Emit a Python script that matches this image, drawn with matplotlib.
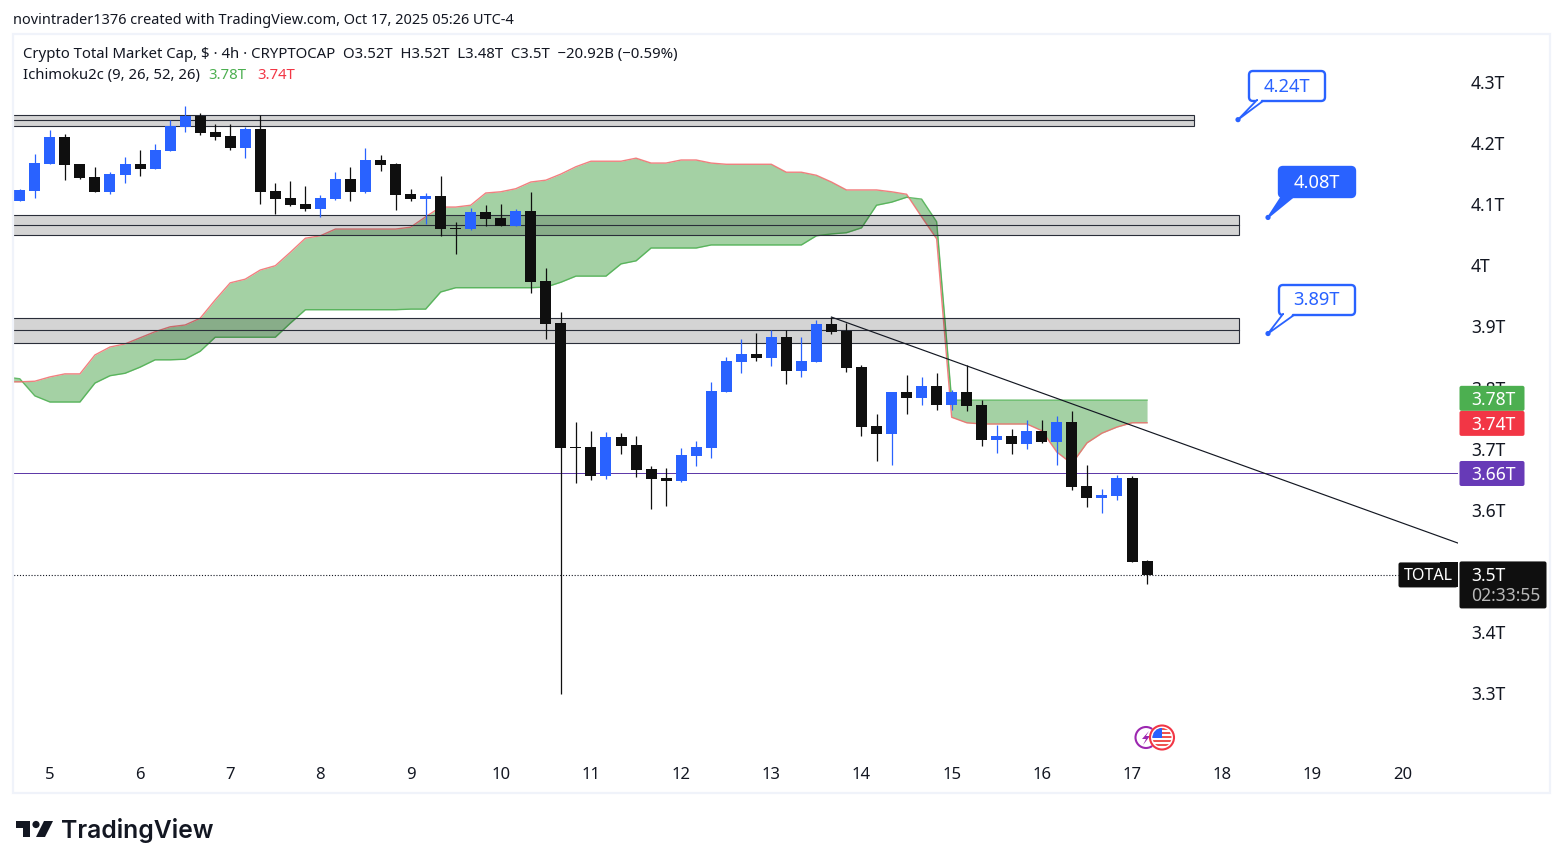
import numpy as np
import matplotlib
matplotlib.use("Agg")
import matplotlib.pyplot as plt
from matplotlib.patches import Polygon, FancyBboxPatch, Circle, Rectangle
from matplotlib.transforms import IdentityTransform, ScaledTranslation

plt.rcParams['font.family'] = ['Noto Sans', 'DejaVu Sans']

# ---------- data (prices in trillions) ----------
opens = [4.107,4.123,4.167,4.212,4.167,4.146,4.122,4.149,4.167,4.159,4.189,4.228,4.246,4.220,4.213,4.194,4.225,4.123,4.112,4.102,
         4.094,4.110,4.143,4.122,4.174,4.167,4.118,4.110,4.115,4.063,4.061,4.089,4.079,4.066,4.091,3.976,3.907,3.704,3.704,3.657,
         3.721,3.708,3.668,3.654,3.649,3.690,3.703,3.794,3.843,3.857,3.850,3.884,3.829,3.843,3.906,3.894,3.835,3.739,3.726,3.794,
         3.785,3.804,3.773,3.794,3.773,3.716,3.722,3.709,3.731,3.713,3.745,3.641,3.621,3.624,3.654,3.518]
highs = [4.127,4.184,4.223,4.217,4.167,4.163,4.154,4.179,4.190,4.200,4.239,4.262,4.251,4.233,4.233,4.228,4.248,4.136,4.140,4.131,
         4.117,4.154,4.163,4.194,4.182,4.169,4.127,4.120,4.148,4.073,4.095,4.100,4.102,4.094,4.122,3.997,3.925,3.745,3.731,3.729,
         3.727,3.722,3.673,3.670,3.703,3.714,3.811,3.852,3.881,3.891,3.896,3.896,3.884,3.912,3.917,3.907,3.839,3.758,3.794,3.822,
         3.819,3.825,3.798,3.839,3.781,3.740,3.734,3.749,3.749,3.755,3.763,3.675,3.636,3.658,3.657,3.519]
lows = [4.107,4.112,4.167,4.141,4.143,4.122,4.118,4.136,4.148,4.159,4.189,4.220,4.215,4.207,4.190,4.177,4.102,4.086,4.099,4.091,
        4.081,4.109,4.107,4.120,4.156,4.092,4.107,4.069,4.050,4.020,4.059,4.066,4.066,4.066,3.956,3.881,3.300,3.645,3.650,3.652,
        3.693,3.655,3.603,3.608,3.647,3.673,3.686,3.794,3.825,3.845,3.837,3.807,3.819,3.843,3.889,3.827,3.722,3.681,3.675,3.758,
        3.773,3.765,3.765,3.763,3.706,3.695,3.693,3.701,3.711,3.675,3.634,3.606,3.596,3.618,3.516,3.480]
closes = [4.125,4.169,4.212,4.166,4.145,4.122,4.151,4.167,4.159,4.190,4.230,4.246,4.218,4.212,4.194,4.225,4.122,4.110,4.100,4.094,
          4.112,4.143,4.122,4.174,4.166,4.117,4.110,4.115,4.061,4.061,4.089,4.077,4.066,4.091,3.974,3.906,3.703,3.703,3.657,3.721,
          3.706,3.667,3.652,3.649,3.691,3.704,3.796,3.845,3.857,3.850,3.884,3.829,3.845,3.906,3.893,3.834,3.737,3.726,3.794,3.785,
          3.804,3.773,3.794,3.771,3.716,3.722,3.709,3.731,3.713,3.745,3.639,3.621,3.626,3.654,3.516,3.495]

cloud_index = list(range(-1, 76))
span_red = [3.811,3.811,3.812,3.819,3.824,3.824,3.855,3.868,3.873,3.883,3.893,3.901,3.904,3.915,3.945,3.973,3.979,3.994,4.001,4.023,
            4.046,4.050,4.061,4.061,4.061,4.061,4.061,4.064,4.081,4.097,4.097,4.100,4.120,4.122,4.127,4.138,4.141,4.151,4.163,4.172,
            4.172,4.172,4.177,4.169,4.169,4.174,4.174,4.169,4.167,4.167,4.167,4.167,4.154,4.154,4.149,4.138,4.125,4.125,4.125,4.122,
            4.118,4.081,4.045,3.753,3.744,3.742,3.742,3.742,3.742,3.731,3.696,3.677,3.711,3.727,3.737,3.744,3.744]
span_green = [3.819,3.816,3.788,3.778,3.778,3.778,3.809,3.821,3.825,3.835,3.847,3.847,3.848,3.861,3.884,3.884,3.884,3.884,3.884,3.907,
              3.929,3.929,3.929,3.929,3.929,3.929,3.929,3.930,3.930,3.958,3.965,3.965,3.965,3.965,3.965,3.965,3.966,3.974,3.984,3.984,
              3.984,4.004,4.009,4.030,4.030,4.030,4.030,4.035,4.035,4.035,4.035,4.035,4.035,4.035,4.050,4.053,4.055,4.063,4.100,4.105,
              4.113,4.110,4.073,3.781,3.781,3.781,3.781,3.781,3.781,3.781,3.781,3.781,3.781,3.781,3.781,3.781,3.781]

zone_levels = [(4.247, 4.239, 4.229), (4.084, 4.067, 4.051), (3.915, 3.895, 3.874)]
zone_end_index = [78.1, 81.1, 81.1]
trend_index = [54, 95.7]
trend_price = [3.917, 3.547]
level_price = 3.661
last_price = 3.495
conv_value = 3.784
base_value = 3.743
callout_prices = [4.24, 4.08, 3.89]
callout_labels = ['4.24T', '4.08T', '3.89T']

y_ticks = [3.3, 3.4, 3.5, 3.6, 3.7, 3.8, 3.9, 4.0, 4.1, 4.2, 4.3]
y_labels = ['3.3T', '3.4T', '3.5T', '3.6T', '3.7T', '3.8T', '3.9T', '4T', '4.1T', '4.2T', '4.3T']
x_tick_index = [2, 8, 14, 20, 26, 32, 38, 44, 50, 56, 62, 68, 74, 80, 86, 92]
x_labels = ['5', '6', '7', '8', '9', '10', '11', '12', '13', '14', '15', '16', '17', '18', '19', '20']

# ---------- layout ----------
W, H = 1563, 868
X0, STEP = 19.8, 15.03
BLUE, BLACK = '#2962ff', '#0f0f0f'
TXT = '#131722'
AXFS = 12.6
fig = plt.figure(figsize=(W / 100, H / 100), dpi=100, facecolor='white')
ax = fig.add_axes([13 / W, 1 - 762 / H, 1445 / W, 727 / H])
ax.set_xlim((13 - X0) / STEP, (1458 - X0) / STEP)
ax.set_ylim(4.3 - (762 - 83) / 611.1, 4.3 + (83 - 35) / 611.1)
for s in ax.spines.values():
    s.set_visible(False)


def py(price):
    return H - ax.transData.transform((0, price))[1]


def add(p):
    p.set_transform(IdentityTransform())
    fig.add_artist(p)
    return p


def poly(pts, **kw):
    return add(Polygon([(x, H - y) for x, y in pts], closed=True, **kw))


def ftext(x, y, s, **kw):
    kw.setdefault('va', 'center')
    kw.setdefault('ha', 'left')
    return fig.text(x / W, 1 - y / H, s, **kw)


# outer frame
add(Rectangle((13, H - 793), 1537, 759, fc='none', ec='#f0f3fa', lw=1.6, zorder=0.5))

# cloud
ax.fill_between(cloud_index, span_red, span_green, color='#4ba54b', alpha=0.5, lw=0, zorder=1)
ax.plot(cloud_index, span_green, color='#4caf50', lw=1.0, alpha=0.85, zorder=1.2)
ax.plot(cloud_index, span_red, color='#f06a6a', lw=1.0, alpha=0.85, zorder=1.3)

# zones
for (t, m, b), xe in zip(zone_levels, zone_end_index):
    ax.fill_between([-1, xe], b, t, color='#000005', alpha=0.17, lw=0, zorder=1.5)
    ax.plot([-1, xe, xe, -1], [t, t, b, b], color='#2a2e39', lw=0.8, zorder=1.6, solid_joinstyle='miter')
    ax.plot([-1, xe], [m, m], color='#2a2e39', lw=0.8, zorder=1.6)

ax.axhline(level_price, color='#5e3aa8', lw=0.72, zorder=1.7)
ax.plot([-1, (1398 - X0) / STEP], [last_price, last_price], color='#131722', lw=0.8,
        ls=(0, (1, 1.6)), zorder=1.7)

# candles
idx = np.arange(len(opens))
o, h, l, c = map(np.array, (opens, highs, lows, closes))
colors = [BLUE if ci >= oi else BLACK for oi, ci in zip(o, c)]
ax.vlines(idx, l, h, colors=colors, lw=0.9, zorder=3)
ax.bar(idx, np.abs(c - o), bottom=np.minimum(o, c), width=11 / STEP, color=colors, lw=0, zorder=3.1)

ax.plot(trend_index, trend_price, color='#131722', lw=0.85, zorder=4, clip_on=True)

# axes
ax.yaxis.tick_right()
ax.set_yticks(y_ticks, y_labels)
ax.tick_params(axis='y', length=0, pad=9.2, labelsize=AXFS, labelcolor=TXT)
ax.set_xticks(x_tick_index, x_labels)
ax.tick_params(axis='x', length=0, pad=3.6, labelsize=12, labelcolor=TXT)
lift = ScaledTranslation(0, 1 / 100, fig.dpi_scale_trans)
for tick in ax.yaxis.get_major_ticks():
    tick.label2.set_transform(tick.label2.get_transform() + lift)

# badges on price axis
for price, col, lab in [(conv_value, '#4caf50', '3.78T'), (base_value, '#f23645', '3.74T'), (level_price, '#673ab7', '3.66T')]:
    y = py(price)
    add(FancyBboxPatch((1461, H - y - 11), 62, 22, boxstyle='round,pad=1.5,rounding_size=2', fc=col, ec='none', zorder=6))
    ftext(1471, y + 1.2, lab, color='white', fontsize=AXFS, zorder=7)
y = py(last_price)
add(FancyBboxPatch((1461, H - y - 32), 84, 44, boxstyle='round,pad=1.5,rounding_size=2', fc=BLACK, ec='none', zorder=6))
ftext(1471, y + 1.5, '3.5T', color='white', fontsize=AXFS, zorder=7)
ftext(1471, y + 21, '02:33:55', color='#b8b8b8', fontsize=AXFS, zorder=7)
add(FancyBboxPatch((1400, H - y - 11), 56, 22, boxstyle='round,pad=1.5,rounding_size=2', fc=BLACK, ec='none', zorder=6))
add(Rectangle((1440, H - y - 12.5), 18, 25, fc=BLACK, ec='none', zorder=6))
ftext(1428, y + 1.5, 'TOTAL', color='white', fontsize=11.6, ha='center', zorder=7)

# callouts
for price, lab, bx, by, tail, filled in zip(callout_prices, callout_labels,
                                            [1249, 1279, 1279], [71, 167, 285],
                                            [(1257, 1263), (1282, 1293), (1283, 1294)],
                                            [False, True, False]):
    px = bx - 11 if not filled and bx == 1249 else 1268
    yp = py(price)
    fc = BLUE if filled else 'white'
    add(FancyBboxPatch((bx + 2, H - by - 28), 72, 26, boxstyle='round,pad=2,rounding_size=4', fc=fc, ec=BLUE, lw=1.7, zorder=6))
    poly([(tail[0], by + 29), (px, yp), (tail[1], by + 30)], fc=fc, ec=BLUE, lw=1.3, zorder=6.5)
    if not filled:
        poly([(tail[0] + 1, by + 28), (tail[1] - 1, by + 28), (tail[1] - 3, by + 31), (tail[0] + 1, by + 31)], fc='white', ec='none', zorder=6.6)
    add(Circle((px, H - yp), 2.6, fc=BLUE, ec='none', zorder=6.7))
    ftext(bx + 37.5, by + 15.5, lab, color='white' if filled else BLUE, fontsize=13.2, ha='center', zorder=7,
          fontweight='semibold')

# header
ftext(13, 20.5, 'novintrader1376 created with TradingView.com, Oct 17, 2025 05:26 UTC-4', color=TXT, fontsize=10.45)
ftext(23, 54.8, 'Crypto Total Market Cap, $ · 4h · CRYPTOCAP  O3.52T  H3.52T  L3.48T  C3.5T  −20.92B (−0.59%)', color=TXT, fontsize=10.75)
ftext(23, 75.8, 'Ichimoku2c (9, 26, 52, 26)', color=TXT, fontsize=10.7)
ftext(208, 75.8, '3.78T', color='#4caf50', fontsize=10.7)
ftext(257, 75.8, '3.74T', color='#f23645', fontsize=10.7)

# icons
add(Circle((1146, H - 737.5), 10.5, fc='white', ec='#9c27b0', lw=1.5, zorder=6))
poly([(1149, 731), (1142, 739), (1146, 739), (1143, 745), (1150, 736), (1146, 736)], fc='#9c27b0', ec='none', zorder=6.1)
add(Circle((1162, H - 737.5), 13, fc='white', ec='none', zorder=6.2))
add(Circle((1162, H - 737.5), 12, fc='none', ec='#f23645', lw=1.5, zorder=6.6))
clip = Circle((1162, H - 737.5), 9.5, transform=IdentityTransform())
for k in range(5):
    r = add(Rectangle((1150, H - 730 - k * 4), 24, 2, fc='#ef5350', ec='none', zorder=6.3))
    r.set_clip_path(clip)
r = add(Rectangle((1150, H - 738), 12, 11, fc='#2962ff', ec='none', zorder=6.4))
r.set_clip_path(clip)

# logo
poly([(16, 821), (30, 821), (30, 837), (23, 837), (23, 828), (16, 828)], fc=TXT, ec='none')
add(Circle((36, H - 824.5), 3.6, fc=TXT, ec='none'))
poly([(44, 821), (53, 821), (45, 837), (36, 837)], fc=TXT, ec='none')
ftext(61, 830.5, 'TradingView', color=TXT, fontsize=17.8, fontweight='semibold', family='Inter')

fig.savefig('out.png', dpi=100)
